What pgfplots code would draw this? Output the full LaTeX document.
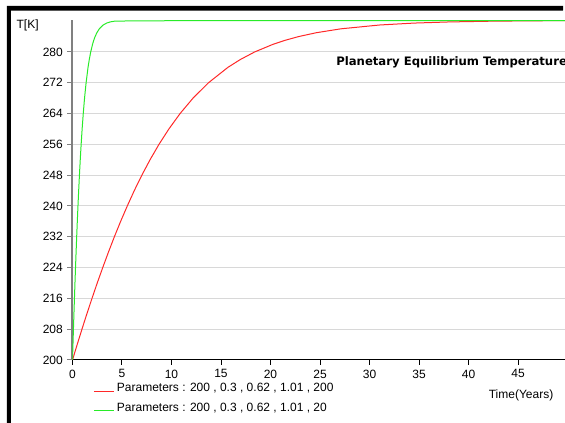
\documentclass[border=0pt]{standalone}
\usepackage{fontspec}
\setmainfont{Liberation Sans}
\newfontfamily\titlefont{DejaVu Sans}
\usepackage{pgfplots}
\pgfplotsset{compat=1.18}

\definecolor{curvered}{RGB}{255,40,40}
\definecolor{curvegreen}{RGB}{40,235,40}
\definecolor{gridgray}{RGB}{216,216,216}
\definecolor{yaxisgray}{RGB}{128,128,128}

% time (years), temperature (K)
\pgfplotstableread{
t T
0 200
0.472 204
0.956 208
1.454 212
1.969 216
2.50 220
3.054 224
3.629 228
4.229 232
4.863 236
5.534 240
6.242 244
7.007 248
7.832 252
8.735 256
9.737 260
10.866 264
12.173 268
13.737 272
15.70 276
16.93 278
18.40 280
20.27 282
21.44 283
22.85 284
24.64 285
27.09 286
31.02 287
34.51 287.5
38.13 287.8
42.6 288.0
49.75 288.15
}\slowrun

\pgfplotstableread{
t T
0 200
0.0472 204
0.0956 208
0.1454 212
0.1969 216
0.250 220
0.3054 224
0.3629 228
0.4229 232
0.4863 236
0.5534 240
0.6242 244
0.7007 248
0.7832 252
0.8735 256
0.9737 260
1.0866 264
1.2173 268
1.3737 272
1.570 276
1.693 278
1.840 280
2.027 282
2.144 283
2.285 284
2.464 285
2.709 286
3.102 287
3.451 287.5
3.813 287.8
4.26 288.0
7.0 288.1
49.75 288.15
}\fastrun

\begin{document}
\begin{tikzpicture}
% axis box: 492.5 x 340 px (1px = 0.75pt), image 565 x 423 px
\useasboundingbox (-54.375pt,-47.25pt) rectangle (369.375pt,270pt);
% window frame along the top and left edges of the picture
\fill[black] (-49.125pt,265.5pt) -- (368pt,265.5pt) -- (368pt,262.125pt) -- (-46.125pt,262.125pt) -- (-46.125pt,-47.25pt) -- (-49.125pt,-47.25pt) -- cycle;
\fill[black!65] (-46.125pt,262.125pt) rectangle (368pt,261.375pt);
\begin{axis}[
  at={(0pt,0pt)}, anchor=south west,
  scale only axis,
  width=369.4pt, height=255pt,
  xmin=0, xmax=49.75,
  ymin=200, ymax=288.3,
  axis x line*=bottom,
  axis y line*=left,
  x axis line style={black, line width=0.75pt},
  y axis line style={yaxisgray, line width=1.5pt},
  xtick={0,5,...,45},
  ytick={200,208,...,280},
  tick align=outside,
  major tick length=3.75pt,
  x tick style={black, line width=0.75pt},
  y tick style={yaxisgray, line width=0.75pt},
  ymajorgrids,
  grid style={gridgray, line width=0.75pt},
  tick label style={font=\fontsize{9}{10}\selectfont},
  /pgf/number format/assume math mode=true,
  ylabel={T[K]},
  ylabel style={rotate=-90, at={(rel axis cs:-0.123,0.984)}, anchor=west, font=\fontsize{9}{10}\selectfont},
  xlabel={Time(Years)},
  xlabel style={at={(rel axis cs:0.9107,-0.103)}, anchor=center, font=\fontsize{9}{10}\selectfont},
  title={Planetary Equilibrium Temperature},
  title style={at={(rel axis cs:0.535,0.853)}, anchor=west, inner sep=0pt, font=\titlefont\bfseries\fontsize{8.75}{10}\selectfont},
  legend style={at={(rel axis cs:0.0416,-0.06)}, anchor=north west, draw=none, fill=none,
    font=\fontsize{9}{10}\selectfont, row sep=3pt, inner sep=0pt},
  legend cell align=left,
  legend image code/.code={\draw[#1, line width=0.75pt] (0pt,-2pt) -- (15pt,-2pt);},
]
\addplot[curvered, line width=0.75pt] table[x=t, y=T] {\slowrun};
\addlegendentry{Parameters : 200 , 0.3 , 0.62 , 1.01 , 200}
\addplot[curvegreen, line width=0.75pt] table[x=t, y=T] {\fastrun};
\addlegendentry{Parameters : 200 , 0.3 , 0.62 , 1.01 , 20}
\end{axis}
\end{tikzpicture}
\end{document}
